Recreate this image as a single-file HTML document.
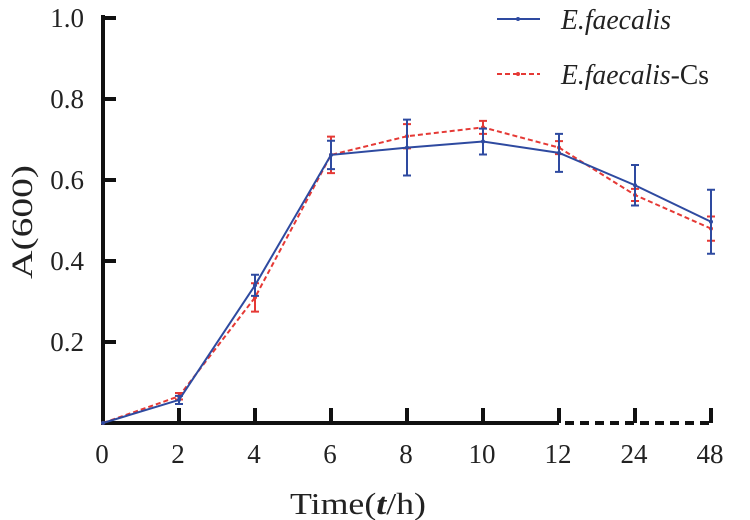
<!DOCTYPE html>
<html><head><meta charset="utf-8"><style>
body{margin:0;background:#fff}
svg{display:block;font-family:"Liberation Serif",serif}
</style></head><body>
<svg id="c" width="750" height="520"></svg>
<script>
const categories=["0","2","4","6","8","10","12","24","48"];
const blueVals=[0,0.057,0.34,0.662,0.68,0.695,0.667,0.587,0.497];
const blueErr=[0,0.01,0.026,0.035,0.069,0.032,0.047,0.05,0.079];
const redVals=[0,0.066,0.31,0.662,0.708,0.73,0.68,0.563,0.48];
const redErr=[0,0.008,0.035,0.045,0.03,0.016,0.016,0.015,0.03];
const yTicks=[0.2,0.4,0.6,0.8,1.0];
const yTickLabels=["0.2","0.4","0.6","0.8","1.0"];
const NS="http://www.w3.org/2000/svg";
const svg=document.getElementById('c');
const x=i=>103+76*i;
const y=v=>423-v*405;
function el(tag,attrs,parent){const e=document.createElementNS(NS,tag);for(const k in attrs)e.setAttribute(k,attrs[k]);(parent||svg).appendChild(e);return e;}
let a=el('line',{x1:103,y1:15,x2:103,y2:425,stroke:'#111','stroke-width':4});


a=el('line',{x1:101,y1:423,x2:x(6),y2:423,stroke:'#111','stroke-width':4});


a=el('line',{x1:x(6)+6,y1:423,x2:x(8),y2:423,stroke:'#111','stroke-width':4,'stroke-dasharray':'9 6'});


yTicks.forEach((v,i)=>{
 let t=el('line',{x1:103,y1:y(v),x2:116,y2:y(v),stroke:'#111','stroke-width':4});
 
 
 let l=el('text',{x:84,y:y(v)+9,'text-anchor':'end','font-size':27,fill:'#222'});l.textContent=yTickLabels[i];
 
 
});
categories.forEach((c,i)=>{
 if(i>0){let t=el('line',{x1:x(i),y1:408,x2:x(i),y2:423,stroke:'#111','stroke-width':4});
 
 }
 let l=el('text',{x:x(i)-1,y:463,'text-anchor':'middle','font-size':27,fill:'#222'});l.textContent=c;
 
 
});
let t=el('text',{x:290,y:514,'font-size':31,fill:'#222',textLength:136,lengthAdjust:'spacingAndGlyphs'});
t.innerHTML='Time(<tspan font-style="italic" font-weight="bold">t</tspan>/h)';


t=el('text',{x:0,y:0,'text-anchor':'middle','font-size':30,fill:'#222',transform:'translate(32,222) rotate(-90)',textLength:114,lengthAdjust:'spacingAndGlyphs'});
t.textContent='A(600)';


function series(vals,errs,color,dash,name){
 const g=el('g',{});
 
 
 vals.forEach((v,i)=>{if(errs[i]>0){
  const e=el('path',{d:`M${x(i)-4},${y(v+errs[i])}H${x(i)+4}M${x(i)},${y(v+errs[i])}V${y(v-errs[i])}M${x(i)-4},${y(v-errs[i])}H${x(i)+4}`,stroke:color,'stroke-width':2,fill:'none'},g);
  
  }});
 const p=el('polyline',{points:vals.map((v,i)=>x(i)+','+y(v)).join(' '),fill:'none',stroke:color,'stroke-width':2,'stroke-dasharray':dash},g);
 
 
 vals.forEach((v,i)=>{const d=el('circle',{cx:x(i),cy:y(v),r:2,fill:color},g);
  
  });
}
series(redVals,redErr,'#e53935','5 3','series-faecalis-cs');
series(blueVals,blueErr,'#2e4aa0','none','series-faecalis');
function leg(yy,color,dash,label,name,len){
 const g=el('g',{});
 
 
 el('line',{x1:497,y1:yy,x2:540,y2:yy,stroke:color,'stroke-width':2,'stroke-dasharray':dash},g);
 el('circle',{cx:518,cy:yy,r:2,fill:color},g);
 const tx=el('text',{x:561,y:yy+10,'font-size':28,fill:'#222',textLength:len,lengthAdjust:'spacingAndGlyphs'},g);tx.innerHTML=label;
}
leg(19,'#2e4aa0','none','<tspan font-style="italic">E.faecalis</tspan>','legend-entry-faecalis',110);
leg(74,'#e53935','5 3','<tspan font-style="italic">E.faecalis</tspan>-Cs','legend-entry-faecalis-cs',148);
</script>
</body></html>
